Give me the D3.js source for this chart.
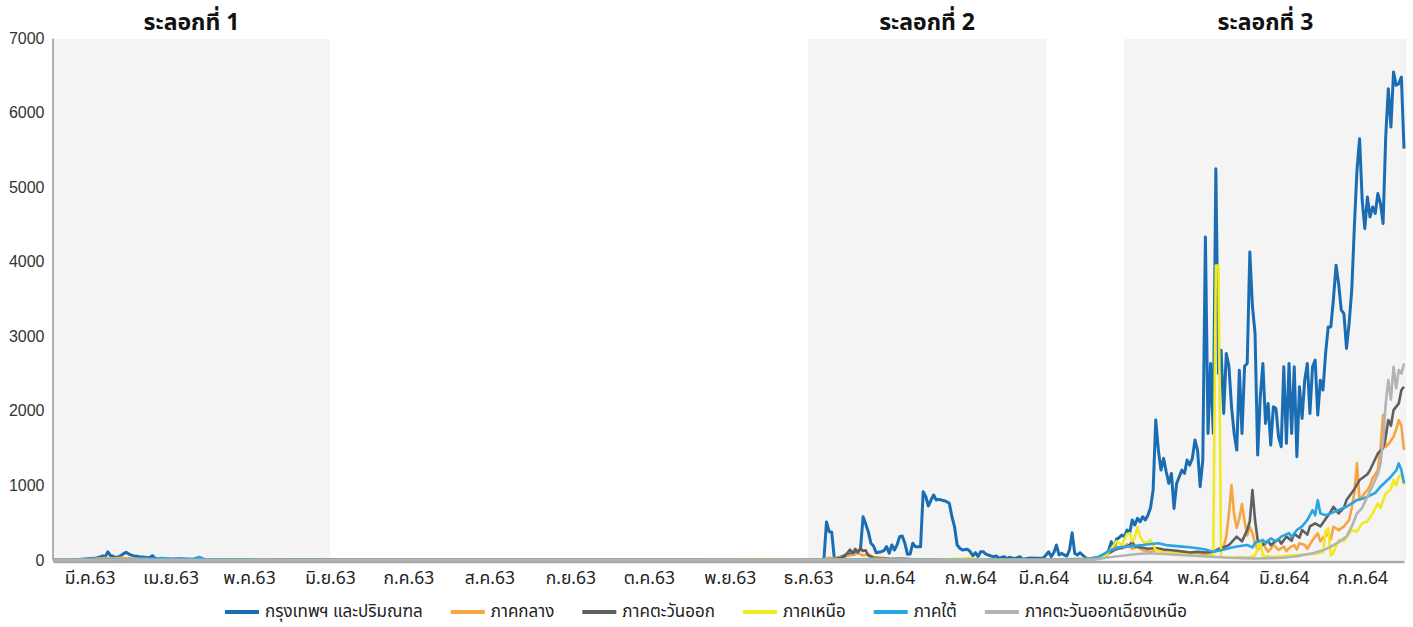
<!DOCTYPE html>
<meta charset="utf-8">
<style>
body { margin: 0; background: #fff; }
svg text { font-family: "Noto Sans Thai", "Noto Sans", "DejaVu Sans", sans-serif; fill: #222; }
.y-axis text { font-family: "Liberation Sans", Arial, sans-serif; font-size: 16px; fill: #333; }
.x-axis text { font-size: 17.5px; }
.wave-title { font-size: 23px; font-weight: bold; }
.legend text { font-size: 17px; }
</style>
<svg width="1413" height="627"></svg>
<script src="https://d3js.org/d3.v7.min.js"></script>
<script>

var parse = d3.timeParse("%Y-%m-%d");

var monthTicks = ["2020-03-15","2020-04-15","2020-05-15","2020-06-15","2020-07-15","2020-08-15",
  "2020-09-15","2020-10-15","2020-11-15","2020-12-15","2021-01-15","2021-02-15","2021-03-15",
  "2021-04-15","2021-05-15","2021-06-15","2021-07-15"];
var monthLabels = ["มี.ค.63","เม.ย.63","พ.ค.63","มิ.ย.63","ก.ค.63","ส.ค.63","ก.ย.63","ต.ค.63",
  "พ.ย.63","ธ.ค.63","ม.ค.64","ก.พ.64","มี.ค.64","เม.ย.64","พ.ค.64","มิ.ย.64","ก.ค.64"];
var yTicks = [0, 1000, 2000, 3000, 4000, 5000, 6000, 7000];

var waves = [["2020-03-01","2020-06-15"],["2020-12-15","2021-03-16"],["2021-04-15","2021-08-01"]];
var waveLabels = ["ระลอกที่ 1","ระลอกที่ 2","ระลอกที่ 3"];

var seriesNames = ["กรุงเทพฯ และปริมณฑล","ภาคกลาง","ภาคตะวันออก","ภาคเหนือ","ภาคใต้","ภาคตะวันออกเฉียงเหนือ"];
var seriesColors = ["#1b6db3","#f7a540","#5f5f5f","#f2ea1f","#28a5e3","#b3b3b3"];

var bkk = [["2020-03-01",0],["2020-03-05",1],["2020-03-09",3],["2020-03-11",6],["2020-03-13",12],["2020-03-15",18],
  ["2020-03-17",22],["2020-03-18",30],["2020-03-19",40],["2020-03-20",55],["2020-03-21",45],["2020-03-22",110],
  ["2020-03-23",60],["2020-03-24",50],["2020-03-25",32],["2020-03-26",45],["2020-03-27",60],["2020-03-28",85],
  ["2020-03-29",103],["2020-03-30",80],["2020-03-31",65],["2020-04-01",55],["2020-04-02",50],["2020-04-03",45],
  ["2020-04-05",38],["2020-04-07",30],["2020-04-08",60],["2020-04-09",25],["2020-04-11",20],["2020-04-13",15],
  ["2020-04-16",15],["2020-04-19",18],["2020-04-22",10],["2020-04-25",8],["2020-04-28",5],["2020-05-03",3],
  ["2020-05-10",2],["2020-05-20",1],["2020-06-01",3],["2020-06-10",5],["2020-06-20",1],["2020-07-05",0],
  ["2020-07-25",1],["2020-08-15",0],["2020-09-05",1],["2020-09-25",0],["2020-10-15",1],["2020-11-05",0],
  ["2020-11-25",1],["2020-12-10",0],["2020-12-21",0],
  ["2020-12-22",510],["2020-12-23",380],["2020-12-24",375],["2020-12-25",20],["2020-12-26",23],["2020-12-28",45],
  ["2020-12-30",80],["2021-01-01",80],["2021-01-03",111],["2021-01-04",143],["2021-01-05",580],["2021-01-06",482],
  ["2021-01-07",380],["2021-01-08",224],["2021-01-09",188],["2021-01-10",98],["2021-01-12",111],["2021-01-13",125],
  ["2021-01-14",179],["2021-01-15",90],["2021-01-16",201],["2021-01-17",134],["2021-01-18",201],["2021-01-19",313],
  ["2021-01-20",322],["2021-01-21",224],["2021-01-22",76],["2021-01-23",80],["2021-01-24",224],["2021-01-25",179],
  ["2021-01-26",179],["2021-01-27",179],["2021-01-28",915],["2021-01-29",848],["2021-01-30",724],["2021-01-31",804],
  ["2021-02-01",871],["2021-02-02",804],["2021-02-03",813],["2021-02-05",795],["2021-02-06",782],["2021-02-07",760],
  ["2021-02-08",580],["2021-02-09",446],["2021-02-10",201],["2021-02-11",157],["2021-02-12",134],["2021-02-14",143],
  ["2021-02-15",111],["2021-02-16",58],["2021-02-17",98],["2021-02-18",45],["2021-02-19",111],["2021-02-20",111],
  ["2021-02-21",80],["2021-02-23",54],["2021-02-24",45],["2021-02-25",54],["2021-02-26",23],["2021-02-28",45],
  ["2021-03-01",18],["2021-03-02",36],["2021-03-04",18],["2021-03-06",45],["2021-03-07",9],["2021-03-10",27],
  ["2021-03-12",23],["2021-03-15",27],["2021-03-16",67],["2021-03-17",111],["2021-03-18",45],["2021-03-19",98],
  ["2021-03-20",201],["2021-03-21",67],["2021-03-22",89],["2021-03-23",67],["2021-03-24",54],["2021-03-25",134],
  ["2021-03-26",366],["2021-03-27",89],["2021-03-28",67],["2021-03-29",98],["2021-03-30",67],["2021-03-31",36],
  ["2021-04-01",10],["2021-04-02",5],["2021-04-03",10],["2021-04-04",15],["2021-04-05",25],["2021-04-06",45],
  ["2021-04-07",45],["2021-04-08",60],["2021-04-09",135],["2021-04-10",246],["2021-04-11",157],["2021-04-12",280],
  ["2021-04-13",300],["2021-04-14",335],["2021-04-15",313],["2021-04-16",402],["2021-04-17",357],["2021-04-18",536],
  ["2021-04-19",470],["2021-04-20",558],["2021-04-21",513],["2021-04-22",580],["2021-04-23",536],["2021-04-24",600],
  ["2021-04-25",700],["2021-04-26",940],["2021-04-27",1876],["2021-04-28",1474],["2021-04-29",1206],["2021-04-30",1363],
  ["2021-05-01",1184],["2021-05-02",1028],["2021-05-03",1161],["2021-05-04",692],["2021-05-05",1028],["2021-05-06",1117],
  ["2021-05-07",1206],["2021-05-08",1161],["2021-05-09",1340],["2021-05-10",1273],["2021-05-11",1363],["2021-05-12",1608],
  ["2021-05-13",1474],["2021-05-14",983],["2021-05-15",1340],["2021-05-16",4332],["2021-05-17",1697],["2021-05-18",2635],
  ["2021-05-19",1697],["2021-05-20",5248],["2021-05-21",2500],["2021-05-22",2814],["2021-05-23",1966],["2021-05-24",2770],
  ["2021-05-25",2600],["2021-05-26",2054],["2021-05-27",1697],["2021-05-28",1474],["2021-05-29",2546],["2021-05-30",1697],
  ["2021-05-31",2600],["2021-06-01",2635],["2021-06-02",4131],["2021-06-03",3400],["2021-06-04",3038],["2021-06-05",1407],
  ["2021-06-06",2188],["2021-06-07",2635],["2021-06-08",1832],["2021-06-09",2099],["2021-06-10",1541],["2021-06-11",2054],
  ["2021-06-12",2032],["2021-06-13",1652],["2021-06-14",1519],["2021-06-15",2590],["2021-06-16",1564],["2021-06-17",2635],
  ["2021-06-18",1697],["2021-06-19",2590],["2021-06-20",1385],["2021-06-21",2323],["2021-06-22",1898],["2021-06-23",2412],
  ["2021-06-24",2635],["2021-06-25",1966],["2021-06-26",2590],["2021-06-27",2680],["2021-06-28",1943],["2021-06-29",2412],
  ["2021-06-30",2278],["2021-07-01",2770],["2021-07-02",3126],["2021-07-03",3126],["2021-07-04",3500],["2021-07-05",3953],
  ["2021-07-06",3700],["2021-07-07",3350],["2021-07-08",3306],["2021-07-09",2837],["2021-07-10",3172],["2021-07-11",3618],
  ["2021-07-12",4466],["2021-07-13",5226],["2021-07-14",5650],["2021-07-15",4824],["2021-07-16",4445],["2021-07-17",4868],
  ["2021-07-18",4600],["2021-07-19",4734],["2021-07-20",4646],["2021-07-21",4914],["2021-07-22",4780],["2021-07-23",4512],
  ["2021-07-24",5672],["2021-07-25",6321],["2021-07-26",5806],["2021-07-27",6543],["2021-07-28",6365],["2021-07-29",6388],
  ["2021-07-30",6476],["2021-07-31",5517]];

var central = [["2020-03-01",0],["2020-03-10",3],["2020-03-15",10],["2020-03-18",18],["2020-03-21",25],["2020-03-24",20],
  ["2020-03-27",28],["2020-03-30",22],["2020-04-03",15],["2020-04-08",10],["2020-04-15",6],["2020-04-25",3],
  ["2020-05-10",1],["2020-06-01",0],["2020-07-01",1],["2020-08-01",0],["2020-09-01",1],["2020-10-01",0],
  ["2020-11-01",1],["2020-12-01",0],["2020-12-18",2],["2020-12-21",10],["2020-12-23",30],["2020-12-25",20],
  ["2020-12-28",40],["2020-12-31",60],["2021-01-02",75],["2021-01-03",95],["2021-01-05",60],["2021-01-07",80],
  ["2021-01-09",40],["2021-01-12",30],["2021-01-15",20],["2021-01-20",15],["2021-01-25",10],["2021-02-01",10],
  ["2021-02-10",5],["2021-02-20",6],["2021-03-01",4],["2021-03-10",6],["2021-03-20",10],["2021-03-28",15],
  ["2021-04-01",20],["2021-04-05",40],["2021-04-08",90],["2021-04-10",150],["2021-04-12",180],["2021-04-14",150],
  ["2021-04-16",210],["2021-04-18",150],["2021-04-20",175],["2021-04-22",130],["2021-04-25",110],["2021-04-28",140],
  ["2021-05-01",100],["2021-05-04",85],["2021-05-07",110],["2021-05-10",80],["2021-05-13",95],["2021-05-16",70],
  ["2021-05-19",100],["2021-05-21",150],["2021-05-23",180],["2021-05-24",320],["2021-05-25",620],["2021-05-26",1005],
  ["2021-05-27",600],["2021-05-28",430],["2021-05-29",560],["2021-05-30",750],["2021-05-31",520],["2021-06-01",330],
  ["2021-06-02",446],["2021-06-03",357],["2021-06-04",224],["2021-06-05",134],["2021-06-06",180],["2021-06-07",268],
  ["2021-06-08",160],["2021-06-09",111],["2021-06-10",150],["2021-06-11",201],["2021-06-12",170],["2021-06-13",134],
  ["2021-06-15",180],["2021-06-16",120],["2021-06-17",160],["2021-06-19",200],["2021-06-20",140],["2021-06-21",224],
  ["2021-06-23",200],["2021-06-24",150],["2021-06-26",268],["2021-06-28",357],["2021-06-29",250],["2021-06-30",300],
  ["2021-07-02",350],["2021-07-03",280],["2021-07-04",446],["2021-07-06",400],["2021-07-08",450],
  ["2021-07-10",536],["2021-07-11",700],["2021-07-12",900],["2021-07-13",1296],["2021-07-14",804],["2021-07-15",850],
  ["2021-07-16",900],["2021-07-17",938],["2021-07-18",1000],["2021-07-19",1100],["2021-07-20",1150],["2021-07-21",1206],
  ["2021-07-22",1500],["2021-07-23",1943],["2021-07-24",1518],["2021-07-25",1550],["2021-07-26",1600],["2021-07-27",1652],
  ["2021-07-28",1750],["2021-07-29",1876],["2021-07-30",1800],["2021-07-31",1474]];

var east = [["2020-03-01",0],["2020-03-15",3],["2020-03-22",8],["2020-03-29",6],["2020-04-08",4],["2020-04-20",2],
  ["2020-05-10",0],["2020-06-10",1],["2020-07-10",0],["2020-08-10",1],["2020-09-10",0],["2020-10-10",1],
  ["2020-11-10",0],["2020-12-10",1],["2020-12-20",3],["2020-12-24",5],["2020-12-27",25],["2020-12-29",50],
  ["2020-12-31",140],["2021-01-01",90],["2021-01-02",150],["2021-01-03",100],["2021-01-04",160],["2021-01-05",120],
  ["2021-01-06",130],["2021-01-07",60],["2021-01-09",30],["2021-01-12",20],["2021-01-16",12],["2021-01-20",15],
  ["2021-01-25",6],["2021-02-01",5],["2021-02-15",3],["2021-03-01",2],["2021-03-15",3],["2021-03-25",6],
  ["2021-04-01",10],["2021-04-04",30],["2021-04-07",60],["2021-04-09",90],["2021-04-11",130],["2021-04-13",157],
  ["2021-04-15",170],["2021-04-17",201],["2021-04-18",246],["2021-04-19",180],["2021-04-21",170],["2021-04-24",150],
  ["2021-04-27",160],["2021-04-30",140],["2021-05-03",130],["2021-05-06",120],["2021-05-10",100],["2021-05-13",110],
  ["2021-05-16",100],["2021-05-19",110],["2021-05-22",157],["2021-05-25",200],["2021-05-28",313],["2021-05-30",250],
  ["2021-06-01",400],["2021-06-02",520],["2021-06-03",938],["2021-06-04",536],["2021-06-05",268],["2021-06-07",200],
  ["2021-06-09",260],["2021-06-10",200],["2021-06-13",280],["2021-06-14",220],["2021-06-16",313],["2021-06-18",260],
  ["2021-06-19",350],["2021-06-21",300],["2021-06-22",402],["2021-06-24",340],["2021-06-25",450],["2021-06-27",491],
  ["2021-06-29",450],["2021-07-01",550],["2021-07-03",650],["2021-07-04",714],["2021-07-06",625],
  ["2021-07-08",700],["2021-07-09",804],["2021-07-12",950],["2021-07-14",1072],["2021-07-17",1150],["2021-07-18",1206],
  ["2021-07-21",1429],["2021-07-23",1500],["2021-07-24",1650],["2021-07-25",1876],["2021-07-26",1800],["2021-07-27",2010],
  ["2021-07-29",2100],["2021-07-30",2278],["2021-07-31",2323]];

var north = [["2020-03-01",0],["2020-03-20",3],["2020-04-01",5],["2020-04-15",2],["2020-05-10",0],["2020-07-01",1],
  ["2020-09-01",0],["2020-11-01",1],["2020-12-20",2],["2021-01-05",10],["2021-01-10",15],["2021-01-15",5],
  ["2021-02-01",3],["2021-02-13",20],["2021-02-15",28],["2021-02-17",15],["2021-02-25",3],["2021-03-10",2],
  ["2021-03-25",5],["2021-04-01",5],["2021-04-05",20],["2021-04-08",60],["2021-04-10",150],["2021-04-12",250],
  ["2021-04-14",200],["2021-04-16",350],["2021-04-17",357],["2021-04-18",250],["2021-04-19",300],["2021-04-20",440],
  ["2021-04-21",313],["2021-04-22",260],["2021-04-23",224],["2021-04-25",268],["2021-04-27",134],["2021-04-30",100],
  ["2021-05-03",90],["2021-05-06",80],["2021-05-09",70],["2021-05-12",60],["2021-05-15",50],["2021-05-19",60],
  ["2021-05-20",3950],["2021-05-21",3950],["2021-05-22",40],["2021-05-25",30],["2021-05-28",40],["2021-06-01",30],
  ["2021-06-04",60],["2021-06-06",250],["2021-06-07",60],["2021-06-10",40],["2021-06-14",50],["2021-06-18",60],
  ["2021-06-22",70],["2021-06-26",80],["2021-06-30",100],["2021-07-01",380],["2021-07-02",429],["2021-07-03",60],
  ["2021-07-04",100],["2021-07-06",268],["2021-07-08",250],["2021-07-11",402],["2021-07-13",380],["2021-07-15",491],
  ["2021-07-17",520],["2021-07-19",625],["2021-07-21",760],["2021-07-22",700],["2021-07-24",893],["2021-07-26",950],
  ["2021-07-27",1072],["2021-07-28",1000],["2021-07-29",1117],["2021-07-30",1150],["2021-07-31",1005]];

var south = [["2020-03-01",0],["2020-03-15",3],["2020-03-25",8],["2020-04-01",12],["2020-04-05",20],["2020-04-08",15],
  ["2020-04-12",25],["2020-04-15",12],["2020-04-20",10],["2020-04-24",20],["2020-04-26",40],["2020-04-28",10],
  ["2020-05-05",3],["2020-05-20",1],["2020-06-15",0],["2020-08-01",1],["2020-10-01",0],["2020-12-01",1],
  ["2020-12-25",3],["2021-01-05",8],["2021-01-15",5],["2021-02-01",3],["2021-03-01",2],["2021-03-20",4],
  ["2021-04-01",10],["2021-04-05",40],["2021-04-08",100],["2021-04-10",134],["2021-04-13",170],["2021-04-16",179],
  ["2021-04-19",190],["2021-04-22",201],["2021-04-25",215],["2021-04-28",224],["2021-05-01",200],["2021-05-04",190],
  ["2021-05-07",179],["2021-05-10",170],["2021-05-13",157],["2021-05-16",140],["2021-05-19",111],["2021-05-22",130],
  ["2021-05-25",157],["2021-05-28",180],["2021-06-01",201],["2021-06-03",170],["2021-06-04",230],["2021-06-07",268],
  ["2021-06-08",220],["2021-06-10",290],["2021-06-12",250],["2021-06-14",313],["2021-06-17",360],["2021-06-18",310],
  ["2021-06-20",402],["2021-06-22",450],["2021-06-24",536],["2021-06-26",670],["2021-06-27",600],["2021-06-28",804],
  ["2021-06-29",625],["2021-07-01",600],["2021-07-03",625],["2021-07-06",670],["2021-07-09",714],["2021-07-11",760],
  ["2021-07-13",804],["2021-07-15",820],["2021-07-17",848],["2021-07-20",900],["2021-07-22",983],["2021-07-24",1050],
  ["2021-07-26",1117],["2021-07-28",1200],["2021-07-29",1296],["2021-07-30",1206],["2021-07-31",1028]];

var northeast = [["2020-03-01",0],["2020-03-20",4],["2020-04-01",6],["2020-04-15",3],["2020-05-10",1],["2020-06-10",0],
  ["2020-08-01",1],["2020-10-01",0],["2020-12-01",1],["2020-12-25",3],["2021-01-10",6],["2021-01-25",3],
  ["2021-02-15",2],["2021-03-10",1],["2021-03-28",4],["2021-04-01",5],["2021-04-05",15],["2021-04-10",40],
  ["2021-04-15",60],["2021-04-20",80],["2021-04-25",90],["2021-04-30",80],["2021-05-05",70],["2021-05-10",60],
  ["2021-05-15",50],["2021-05-20",40],["2021-05-25",30],["2021-05-31",25],["2021-06-05",20],["2021-06-10",25],
  ["2021-06-15",30],["2021-06-20",50],["2021-06-26",90],["2021-06-30",130],["2021-07-03",179],["2021-07-06",240],
  ["2021-07-09",313],["2021-07-11",450],["2021-07-13",625],["2021-07-15",700],["2021-07-17",850],["2021-07-19",1000],
  ["2021-07-21",1150],["2021-07-22",1296],["2021-07-23",1600],["2021-07-24",2099],["2021-07-25",2412],["2021-07-26",2150],
  ["2021-07-27",2590],["2021-07-28",2300],["2021-07-29",2546],["2021-07-30",2500],["2021-07-31",2635]];

var seriesData = [bkk, central, east, north, south, northeast];

var svg = d3.select("svg");

var x = d3.scaleTime()
    .domain([parse("2020-03-01"), parse("2021-07-31")])
    .range([53, 1404]);

var y = d3.scaleLinear()
    .domain([0, 7000])
    .range([560, 38]);

// shaded wave periods
svg.append("g").selectAll("rect")
    .data(waves)
  .enter().append("rect")
    .attr("x", function(d) { return x(parse(d[0])); })
    .attr("width", function(d) { return x(parse(d[1])) - x(parse(d[0])); })
    .attr("y", y(7000) + 1)
    .attr("height", y(0) - y(7000) - 1)
    .attr("fill", "#f4f4f4");

svg.append("g").selectAll("text")
    .data(waves)
  .enter().append("text")
    .attr("class", "wave-title")
    .attr("x", function(d) { return (x(parse(d[0])) + x(parse(d[1]))) / 2; })
    .attr("y", 30)
    .attr("text-anchor", "middle")
    .style("fill", "#111")
    .text(function(d, i) { return waveLabels[i]; });

// y axis
var yAxis = svg.append("g")
    .attr("class", "y-axis")
    .attr("transform", "translate(52.5,0)")
    .call(d3.axisLeft(y).tickValues(yTicks).tickSize(0).tickPadding(8).tickFormat(d3.format("d")));
yAxis.select(".domain").attr("stroke", "#666").attr("stroke-width", 1);

// lines
var line = d3.line()
    .x(function(d) { return x(parse(d[0])); })
    .y(function(d) { return y(d[1]); });

svg.append("g").selectAll("path")
    .data(seriesData)
  .enter().append("path")
    .attr("fill", "none")
    .attr("stroke", function(d, i) { return seriesColors[i]; })
    .attr("stroke-width", function(d, i) { return i === 0 ? 3 : 2.6; })
    .attr("stroke-linejoin", "round")
    .attr("d", line);

// x axis
var xAxis = svg.append("g")
    .attr("class", "x-axis")
    .attr("transform", "translate(0," + (y(0) + 1.5) + ")")
    .call(d3.axisBottom(x)
      .tickValues(monthTicks.map(parse))
      .tickSize(0)
      .tickPadding(10)
      .tickFormat(function(d, i) { return monthLabels[i]; }));
xAxis.select(".domain").attr("stroke", "#a8a8a8").attr("stroke-width", 2.5);

// legend
var legend = svg.append("g").attr("class", "legend");
var items = legend.selectAll("g")
    .data(seriesNames)
  .enter().append("g");
items.append("line")
    .attr("x1", 0).attr("x2", 34)
    .attr("y1", 0).attr("y2", 0)
    .attr("stroke", function(d, i) { return seriesColors[i]; })
    .attr("stroke-width", 4);
items.append("text")
    .attr("x", 40)
    .attr("dy", "0.32em")
    .text(function(d) { return d; });

var pos = 0, offsets = [];
items.each(function() {
  offsets.push(pos);
  pos += 40 + this.querySelector("text").getComputedTextLength() + 28;
});
var total = pos - 28, start = 706 - total / 2;
items.attr("transform", function(d, i) { return "translate(" + (start + offsets[i]) + ",612)"; });

</script>
